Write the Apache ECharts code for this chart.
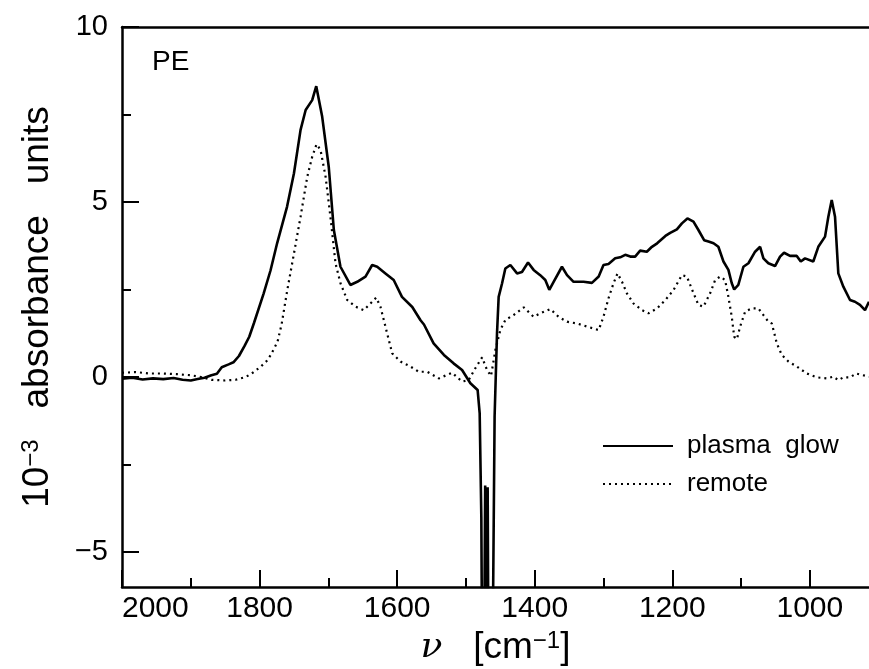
<!DOCTYPE html>
<html>
<head>
<meta charset="utf-8">
<script src="https://cdn.jsdelivr.net/npm/echarts@6/dist/echarts.min.js"></script>
<style>
html,body{margin:0;padding:0;background:#fff;}
#chart{width:869px;height:669px;}
</style>
</head>
<body>
<div id="chart"></div>
<script>
// ---- data ----
const plasmaWavenumber = [2000,1985,1970,1955,1940,1925,1912,1900,1890,1880,1870,1862,1855,1845,1838,1830,1822,1815,1808,1794,1784,1774.5,1760,1750,1740.4,1733,1723.5,1717.6,1709,1699.4,1692,1682.4,1668,1658,1646,1636.3,1629,1617,1605,1593,1578,1566,1561,1547,1532,1518,1505.6,1493.5,1483,1480,1477.6,1476.5,1473.5,1472,1470.5,1469.5,1468.4,1467.3,1461.5,1460.6,1458.3,1454.8,1452.4,1447.5,1442.7,1435.4,1425.7,1418.5,1409.7,1401.6,1392,1384.6,1378.8,1372.5,1360.4,1353,1343.5,1329,1316.8,1307,1300,1292.7,1283,1275.7,1268.4,1261,1254,1246.7,1237,1229.6,1222,1210,1203,1193.3,1186,1178,1169.2,1162,1153.7,1147.4,1140,1133,1125.6,1118.4,1113.5,1110,1104,1096.6,1089.3,1079.6,1072.3,1067.5,1060.3,1050.6,1043.3,1037.5,1028.8,1019,1013.2,1007,995,987.7,977.9,973.1,968.2,963.4,958.6,951.3,941.6,934.4,927.1,919.8,914];
const plasmaAbsorbance = [-0.05,-0.02,-0.07,-0.04,-0.06,-0.03,-0.08,-0.1,-0.06,-0.02,0.05,0.09,0.28,0.36,0.42,0.6,0.88,1.15,1.55,2.39,3.05,3.82,4.87,5.82,7.06,7.63,7.91,8.31,7.44,6.0,4.2,3.15,2.63,2.72,2.87,3.2,3.15,2.96,2.77,2.29,2.0,1.62,1.5,0.96,0.63,0.39,0.2,-0.18,-0.37,-1.04,-4.0,-8,-8,-3.1,-8,-8,-3.15,-8,-8,-6.5,-1.13,1.25,2.29,2.67,3.1,3.2,2.96,3.0,3.27,3.06,2.91,2.77,2.49,2.72,3.15,2.91,2.72,2.72,2.69,2.87,3.2,3.23,3.39,3.42,3.49,3.44,3.44,3.61,3.58,3.72,3.82,4.03,4.12,4.22,4.39,4.53,4.44,4.2,3.91,3.87,3.82,3.72,3.3,3.06,2.68,2.5,2.63,3.15,3.25,3.58,3.72,3.39,3.25,3.17,3.44,3.55,3.46,3.46,3.3,3.39,3.3,3.72,4.01,4.58,5.06,4.58,2.96,2.58,2.2,2.15,2.06,1.91,2.15];

const remoteWavenumber = [2000,1980,1960,1940,1920,1900,1885,1870,1850,1835,1820,1810,1798,1790,1784,1774,1768,1760,1750,1740.4,1730.7,1723.5,1717.2,1711.4,1704,1697,1689.6,1682.4,1672.6,1660.6,1648.5,1638.8,1630.5,1624.3,1617,1607.3,1595,1580.7,1568.6,1556.4,1539.6,1520,1505.6,1496,1486.3,1476.5,1469.3,1463.5,1457.2,1450,1442.7,1430.7,1416,1401.6,1392,1377.3,1365.3,1353,1338.6,1324,1307,1300,1292.7,1285.4,1279.6,1273,1266,1256.4,1244,1234.6,1222,1210,1198,1186,1178.8,1169,1162,1154.7,1145,1137.7,1130.4,1123.2,1118.4,1113.5,1110,1106,1101.4,1094,1084.4,1074.8,1067.5,1060.3,1055.3,1048,1040.8,1031,1019,1004.5,990,975.4,966,958.6,951.3,941.6,932.8,924.6,914];
const remoteAbsorbance = [0.12,0.14,0.1,0.1,0.08,0.05,0.0,-0.08,-0.1,-0.08,0.0,0.12,0.3,0.45,0.62,1.0,1.5,2.45,3.53,4.58,5.72,6.29,6.65,6.49,5.72,4.58,3.25,2.68,2.2,2.01,1.91,2.1,2.27,2.01,1.44,0.68,0.44,0.3,0.15,0.15,-0.04,0.12,-0.13,-0.09,0.25,0.56,0.2,0.03,0.77,1.34,1.63,1.77,1.99,1.72,1.82,1.94,1.72,1.58,1.53,1.44,1.34,1.72,2.25,2.68,2.96,2.72,2.39,2.1,1.91,1.82,1.96,2.2,2.49,2.91,2.87,2.39,2.06,2.01,2.39,2.77,2.87,2.77,2.29,1.72,1.15,1.08,1.44,1.87,1.96,1.96,1.77,1.58,1.53,0.96,0.63,0.44,0.3,0.1,-0.01,-0.04,0.01,-0.09,-0.01,-0.01,0.1,0.06,0.01];

const seriesNames = ['plasma  glow', 'remote'];
const xMajorTicks = [2000,1800,1600,1400,1200,1000];
const xMinorTicks = [1900,1700,1500,1300,1100];
const yMajorTicks = [-5,0,5,10];
const yMinorTicks = [-2.5,2.5,7.5];
const panelLabel = 'PE';

const zip = (xs, ys) => xs.map((x, i) => [x, ys[i]]);
const FONT = 'Liberation Sans, Arial, Helvetica, sans-serif';
const XMIN = 914, XMAX = 2000, YMIN = -6, YMAX = 10;

const chart = echarts.init(document.getElementById('chart'), null, {renderer: 'canvas'});

chart.setOption({
  backgroundColor: '#fff',
  animation: false,
  grid: {left: 122, right: 0, top: 27, bottom: 82, containLabel: false, outerBoundsMode: 'none'},
  legend: {
    orient: 'vertical',
    left: 597, top: 428,
    itemWidth: 70, itemHeight: 14, itemGap: 12,
    itemStyle: {opacity: 0},
    textStyle: {fontFamily: FONT, fontSize: 26, color: '#000', padding: [0, 0, 0, 9]},
    data: seriesNames
  },
  xAxis: [
    {
      type: 'value', min: XMIN, max: XMAX, inverse: true, position: 'bottom',
      axisLine: {show: true, onZero: false, lineStyle: {color: '#000', width: 2.5}},
      axisTick: {show: true, inside: true, length: 17, lineStyle: {color: '#000', width: 2}, customValues: xMajorTicks},
      axisLabel: {show: true, customValues: xMajorTicks, color: '#000', fontFamily: FONT, fontSize: 30, margin: 7,
                  alignMinLabel: 'left', formatter: v => String(v)},
      splitLine: {show: false},
      name: '{nu|ν}   {t|[cm}{sup|−1}{t|]}',
      nameLocation: 'middle', nameGap: 39,
      nameTextStyle: {
        color: '#000', fontFamily: FONT, fontSize: 37,
        rich: {
          nu: {fontFamily: 'DejaVu Serif, serif', fontStyle: 'italic', fontSize: 36, color: '#000'},
          t: {fontFamily: FONT, fontSize: 37, color: '#000'},
          sup: {fontFamily: FONT, fontSize: 24, color: '#000', verticalAlign: 'top', lineHeight: 36}
        }
      }
    },
    {
      type: 'value', min: XMIN, max: XMAX, inverse: true, position: 'bottom',
      axisLine: {show: false, onZero: false},
      axisTick: {show: true, inside: true, length: 9, lineStyle: {color: '#000', width: 2}, customValues: xMinorTicks},
      axisLabel: {show: false},
      splitLine: {show: false}
    },
    {
      type: 'value', min: XMIN, max: XMAX, inverse: true, position: 'top',
      axisLine: {show: true, onZero: false, lineStyle: {color: '#000', width: 2.5}},
      axisTick: {show: false}, axisLabel: {show: false}, splitLine: {show: false}
    }
  ],
  yAxis: [
    {
      type: 'value', min: YMIN, max: YMAX, position: 'left',
      axisLine: {show: true, onZero: false, lineStyle: {color: '#000', width: 2.5}},
      axisTick: {show: true, inside: true, length: 17, lineStyle: {color: '#000', width: 2}, customValues: yMajorTicks},
      axisLabel: {show: true, customValues: yMajorTicks, color: '#000', fontFamily: FONT, fontSize: 29, margin: 14,
                  formatter: v => (v < 0 ? '−' + Math.abs(v) : String(v))},
      splitLine: {show: false},
      name: '{n|10}{sup|−3}{n|   absorbance   units}',
      nameLocation: 'middle', nameGap: 66, nameRotate: 90,
      nameTextStyle: {
        color: '#000', fontFamily: FONT, fontSize: 37,
        rich: {
          n: {fontFamily: FONT, fontSize: 37, color: '#000'},
          sup: {fontFamily: FONT, fontSize: 24, color: '#000', verticalAlign: 'top', lineHeight: 36}
        }
      }
    },
    {
      type: 'value', min: YMIN, max: YMAX, position: 'left',
      axisLine: {show: false, onZero: false},
      axisTick: {show: true, inside: true, length: 9, lineStyle: {color: '#000', width: 2}, customValues: yMinorTicks},
      axisLabel: {show: false}, splitLine: {show: false}
    }
  ],
  graphic: [
    {type: 'text', left: 152, top: 48, style: {text: panelLabel, font: '28px ' + FONT, fill: '#000'}}
  ],
  series: [
    {
      name: seriesNames[0], type: 'line', xAxisIndex: 0, yAxisIndex: 0,
      data: zip(plasmaWavenumber, plasmaAbsorbance),
      showSymbol: false, symbol: 'none', smooth: false, clip: true,
      lineStyle: {color: '#000', width: 2.6, type: 'solid'},
      itemStyle: {color: '#000'}
    },
    {
      name: seriesNames[1], type: 'line', xAxisIndex: 0, yAxisIndex: 0,
      data: zip(remoteWavenumber, remoteAbsorbance),
      showSymbol: false, symbol: 'none', smooth: false, clip: true,
      lineStyle: {color: '#000', width: 2.2, type: [2, 4]},
      itemStyle: {color: '#000'}
    }
  ]
});
</script>
</body>
</html>
